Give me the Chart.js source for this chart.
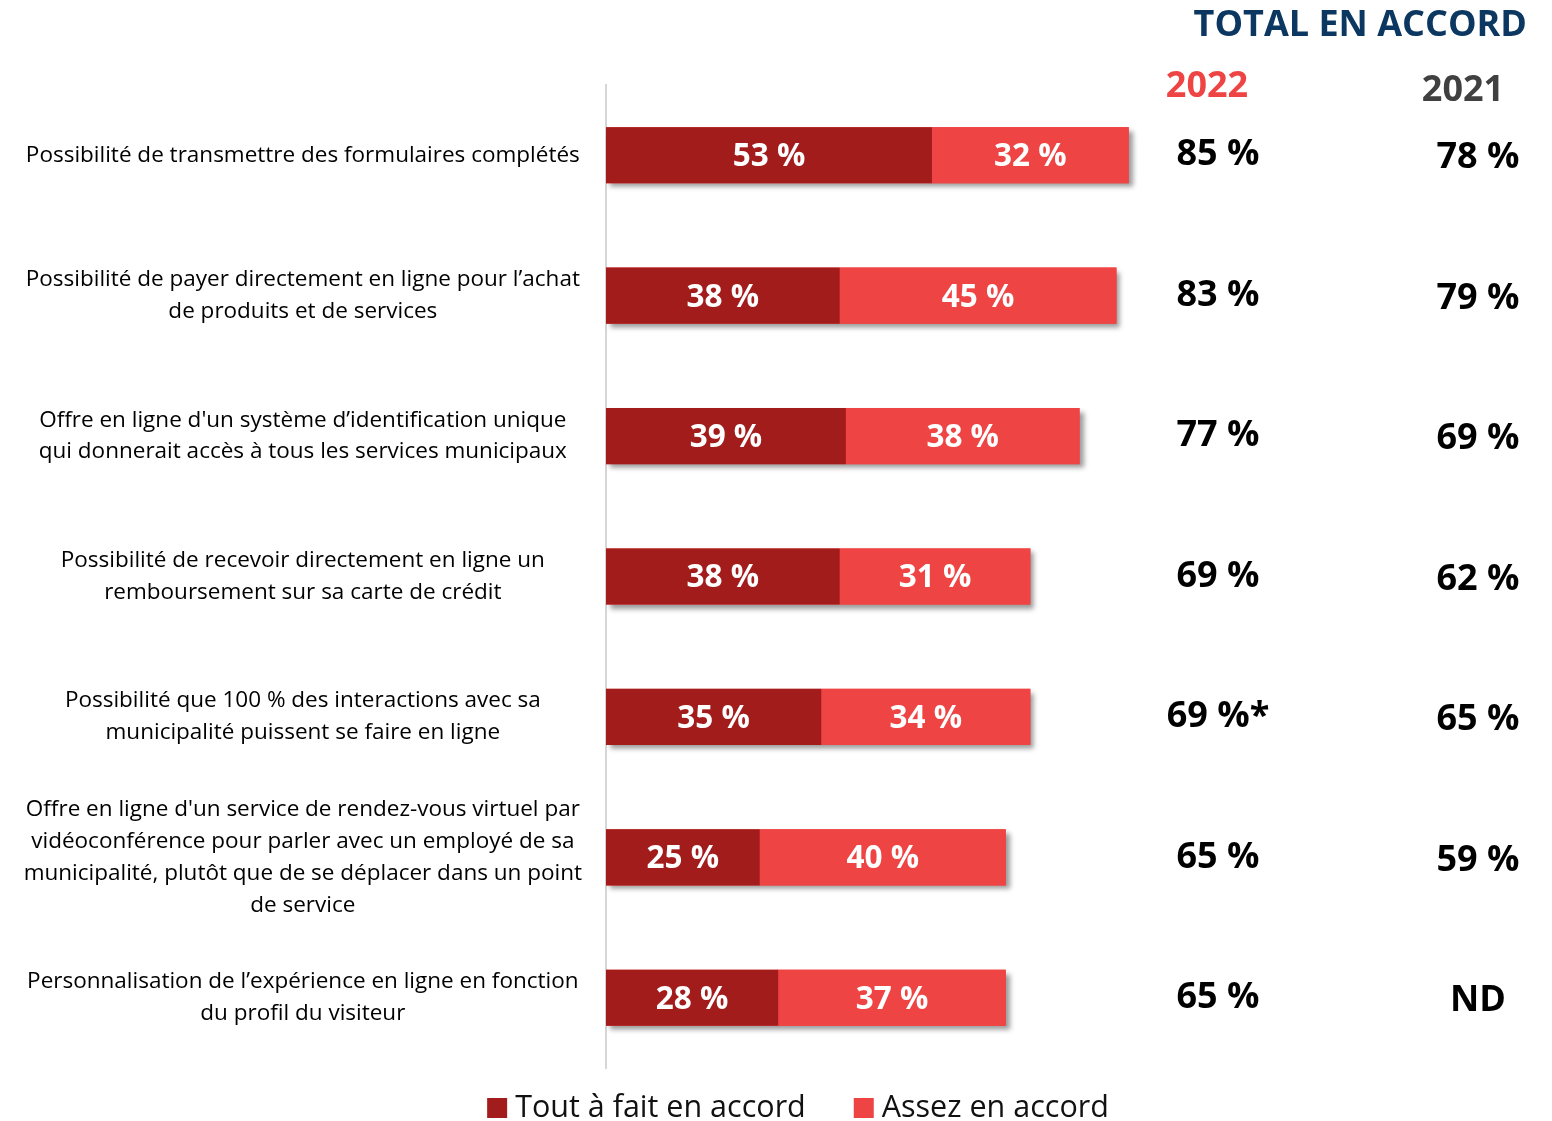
<!DOCTYPE html>
<html lang="fr">
<head>
<meta charset="utf-8">
<title>Total en accord</title>
<script src="https://cdn.jsdelivr.net/npm/chart.js@4.4.1/dist/chart.umd.min.js"></script>
<style>
  html, body { margin: 0; padding: 0; background: #fff; }
  #wrap { position: relative; width: 1552px; height: 1121px; }
</style>
</head>
<body>
<div id="wrap"><canvas id="chart"></canvas></div>
<script>
const categories = [
  ['Possibilité de transmettre des formulaires complétés'],
  ['Possibilité de payer directement en ligne pour l\u2019achat', 'de produits et de services'],
  ['Offre en ligne d\'un système d\u2019identification unique', 'qui donnerait accès à tous les services municipaux'],
  ['Possibilité de recevoir directement en ligne un', 'remboursement sur sa carte de crédit'],
  ['Possibilité que 100 % des interactions avec sa', 'municipalité puissent se faire en ligne'],
  ['Offre en ligne d\'un service de rendez-vous virtuel par', 'vidéoconférence pour parler avec un employé de sa', 'municipalité, plutôt que de se déplacer dans un point', 'de service'],
  ['Personnalisation de l\u2019expérience en ligne en fonction', 'du profil du visiteur']
];
const toutAFait = [53, 38, 39, 38, 35, 25, 28];
const assez = [32, 45, 38, 31, 34, 40, 37];
const total2022 = ['85 %', '83 %', '77 %', '69 %', '69 %*', '65 %', '65 %'];
const total2021 = ['78 %', '79 %', '69 %', '62 %', '65 %', '59 %', 'ND'];
const seriesNames = ['Tout à fait en accord', 'Assez en accord'];

const FONT = '"Open Sans", "Noto Sans", sans-serif';
const DARK_RED = '#A31C1C';
const LIGHT_RED = '#EF4444';

// one shadow per stacked bar, drawn before the bars themselves
const barShadow = {
  id: 'barShadow',
  beforeDatasetsDraw(chart) {
    const ctx = chart.ctx;
    const first = chart.getDatasetMeta(0).data;
    const last = chart.getDatasetMeta(chart.data.datasets.length - 1).data;
    ctx.save();
    ctx.shadowColor = 'rgba(0,0,0,0.4)';
    ctx.shadowBlur = 5;
    ctx.shadowOffsetX = 4;
    ctx.shadowOffsetY = 4;
    ctx.fillStyle = LIGHT_RED;
    first.forEach((bar, j) => {
      const end = last[j];
      ctx.fillRect(bar.base, bar.y - bar.height / 2, end.x - bar.base, bar.height);
    });
    ctx.restore();
  }
};

// values inside the bars, total columns on the right, custom legend
const valueLabels = {
  id: 'valueLabels',
  afterDraw(chart) {
    const ctx = chart.ctx;
    const yScale = chart.scales.y;
    ctx.save();
    ctx.textAlign = 'center';
    ctx.textBaseline = 'middle';

    ctx.fillStyle = '#fff';
    ctx.font = 'bold 31.5px ' + FONT;
    chart.data.datasets.forEach((ds, i) => {
      chart.getDatasetMeta(i).data.forEach((bar, j) => {
        const p = bar.getCenterPoint();
        ctx.fillText(ds.data[j] + ' %', p.x, p.y + 2);
      });
    });

    ctx.fillStyle = '#000';
    ctx.font = 'bold 36px ' + FONT;
    categories.forEach((c, j) => {
      const y = yScale.getPixelForValue(j);
      ctx.fillText(total2022[j], 1218, y);
      ctx.fillText(total2021[j], 1478, y + 3);
    });

    // headers
    ctx.font = 'bold 36px ' + FONT;
    ctx.fillStyle = '#0B3760';
    ctx.textAlign = 'right';
    ctx.fillText('TOTAL EN ACCORD', 1527, 26);
    ctx.textAlign = 'center';
    ctx.font = 'bold 36px ' + FONT;
    ctx.fillStyle = LIGHT_RED;
    ctx.fillText('2022', 1207, 87);
    ctx.fillStyle = '#404040';
    ctx.fillText('2021', 1463, 91);

    // legend
    ctx.font = '30.5px ' + FONT;
    ctx.textAlign = 'left';
    const box = 20, gapText = 8, gapItem = 48, ly = 1108;
    const widths = chart.data.datasets.map(ds => ctx.measureText(ds.label).width);
    const totalW = widths.reduce((a, w) => a + box + gapText + w, 0) + gapItem * (widths.length - 1);
    let lx = 798 - totalW / 2;
    chart.data.datasets.forEach((ds, i) => {
      ctx.fillStyle = ds.backgroundColor;
      ctx.fillRect(lx, ly - box / 2, box, box);
      ctx.fillStyle = '#111';
      ctx.fillText(ds.label, lx + box + gapText, ly);
      lx += box + gapText + widths[i] + gapItem;
    });
    ctx.restore();
  }
};

new Chart(document.getElementById('chart'), {
  type: 'bar',
  data: {
    labels: categories,
    datasets: [
      { label: seriesNames[0], data: toutAFait, backgroundColor: DARK_RED, borderWidth: 0 },
      { label: seriesNames[1], data: assez, backgroundColor: LIGHT_RED, borderWidth: 0 }
    ]
  },
  options: {
    indexAxis: 'y',
    responsive: true,
    maintainAspectRatio: false,
    animation: false,
    barPercentage: 0.4,
    categoryPercentage: 1,
    layout: { padding: { top: 85, right: 331, bottom: 53, left: 0 } },
    scales: {
      x: { stacked: true, display: false, min: 0, max: 100 },
      y: {
        stacked: true,
        grid: { display: false, drawTicks: false },
        border: { display: true, color: '#D6D6D6', width: 2 },
        afterFit(scale) { scale.width = 606; },
        ticks: {
          crossAlign: 'center',
          padding: 24,
          color: '#000',
          font: { family: FONT, size: 22.5, lineHeight: 1.42 }
        }
      }
    },
    plugins: {
      tooltip: { enabled: false },
      legend: { display: false }
    }
  },
  plugins: [barShadow, valueLabels]
});
</script>
</body>
</html>
